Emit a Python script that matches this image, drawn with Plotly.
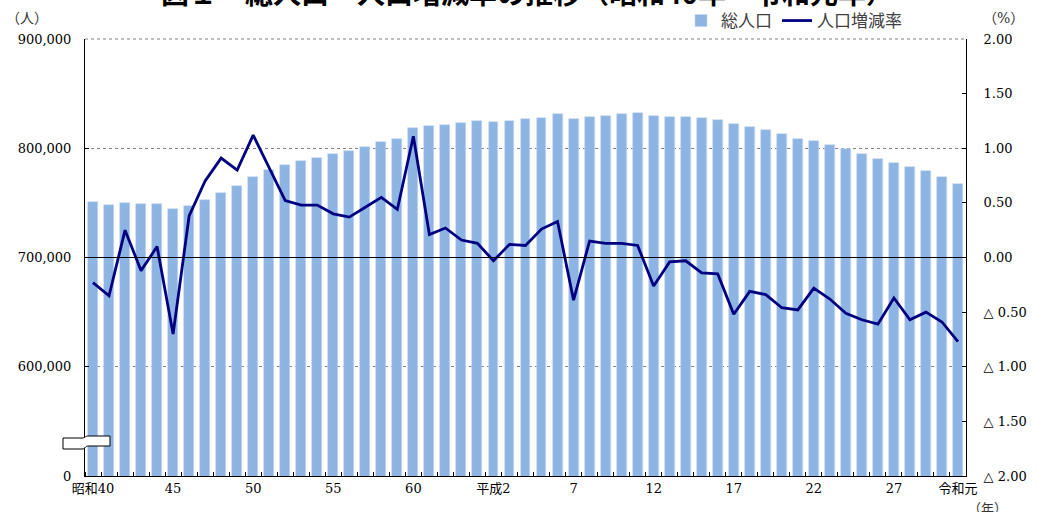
import plotly.graph_objects as go

# ---- data ----
era_labels = ["昭和40", "45", "50", "55", "60", "平成2", "7", "12", "17", "22", "27", "令和元"]
label_positions = [0, 5, 10, 15, 20, 25, 30, 35, 40, 45, 50, 54]

population = [
    751000, 748000, 750000, 748700, 749000, 744400, 747000, 752600, 759000, 765000,
    774000, 780400, 784700, 788300, 791400, 794700, 797800, 801000, 805700, 808700,
    818200, 820100, 821600, 823100,
    824700, 824000, 825000, 826500, 828000, 831300, 827000, 828900, 829800, 831300,
    832000, 829800, 828900, 828700, 827800, 826200, 822200, 819200, 816700, 813000,
    808700, 806400, 803300, 799300, 794700, 789800, 786800, 782800, 778900, 774000,
    767600,
]
growth_rate = [
    -0.23, -0.35, 0.25, -0.12, 0.10, -0.70, 0.38, 0.70, 0.91, 0.80,
    1.12, 0.82, 0.52, 0.48, 0.48, 0.40, 0.37, 0.46, 0.55, 0.44,
    1.11, 0.21, 0.27, 0.16,
    0.13, -0.03, 0.12, 0.11, 0.26, 0.33, -0.39, 0.15, 0.13, 0.13,
    0.11, -0.26, -0.04, -0.03, -0.14, -0.15, -0.52, -0.31, -0.34, -0.46,
    -0.48, -0.28, -0.38, -0.51, -0.57, -0.61, -0.37, -0.57, -0.50, -0.59,
    -0.77,
]
left_tickvals = [500000, 600000, 700000, 800000, 900000]
left_ticktext = ["0", "600,000", "700,000", "800,000", "900,000"]
right_tickvals = [-2, -1.5, -1, -0.5, 0, 0.5, 1, 1.5, 2]
right_ticktext = ["△ 2.00", "△ 1.50", "△ 1.00", "△ 0.50", "0.00", "0.50", "1.00", "1.50", "2.00"]

x = list(range(len(population)))

W, H = 1038, 512
L, R, T, B = 85, 966, 39, 476
def px(v):
    return (v - L) / (R - L)
def py(v):
    return (B - v) / (B - T)

SERIF = "DejaVu Serif, Noto Sans CJK JP"
CJK = "Noto Sans CJK JP"

fig = go.Figure()
fig.add_trace(go.Bar(
    x=x, y=population, name="総人口", width=0.62,
    marker=dict(color="#8DB4E2", line=dict(color="#C5D9F1", width=0.6)),
    yaxis="y",
))
fig.add_trace(go.Scatter(
    x=x, y=growth_rate, name="人口増減率", mode="lines",
    line=dict(color="#000080", width=2.8),
    yaxis="y2",
))

fig.update_layout(
    width=W, height=H,
    margin=dict(l=L, r=W - R, t=T, b=H - B, autoexpand=False),
    plot_bgcolor="white", paper_bgcolor="white",
    showlegend=True,
    legend=dict(orientation="h", x=px(907), xanchor="right", y=py(21), yanchor="middle",
                font=dict(family=CJK, size=17, color="#404040"), bgcolor="rgba(0,0,0,0)",
                itemwidth=30, traceorder="normal"),
    bargap=0,
    xaxis=dict(
        range=[-0.5, len(population) - 0.5],
        tickmode="array", tickvals=label_positions, ticktext=era_labels,
        ticks="", showgrid=False, zeroline=False,
        showline=True, linecolor="black", linewidth=1,
        tickfont=dict(family=SERIF, size=13, color="black"),
        minor=dict(tickmode="linear", tick0=-0.5, dtick=1, ticks="inside", ticklen=4,
                   tickcolor="black", showgrid=False),
    ),
    yaxis=dict(
        range=[500000, 900000],
        tickmode="array", tickvals=left_tickvals, ticktext=left_ticktext,
        ticks="inside", ticklen=4, tickcolor="black",
        showline=True, linecolor="black", linewidth=1,
        showgrid=True, gridcolor="#808080", griddash="dot", gridwidth=1,
        zeroline=False,
        tickfont=dict(family=SERIF, size=13, color="black"),
        ticklabelstandoff=10,
    ),
    yaxis2=dict(
        range=[-2, 2], overlaying="y", side="right",
        tickmode="array", tickvals=right_tickvals, ticktext=right_ticktext,
        ticks="inside", ticklen=4, tickcolor="black",
        showline=True, linecolor="black", linewidth=1,
        showgrid=False, zeroline=False,
        tickfont=dict(family=SERIF, size=13, color="black"),
        ticklabelstandoff=14,
    ),
)

# dotted top border of the plot (900,000 grid line)
fig.add_shape(type="line", xref="paper", yref="paper", x0=0, x1=1, y0=1, y1=1,
              line=dict(color="#808080", width=1, dash="dot"), layer="above")
# zero line of the rate axis (solid black across the plot)
fig.add_shape(type="line", xref="paper", yref="y2", x0=0, x1=1, y0=0, y1=0,
              line=dict(color="black", width=1.2), layer="above")

# axis break symbol
path = (f"M {px(63)},{py(438)} L {px(82)},{py(438)} "
        f"C {px(86)},{py(438)} {px(84)},{py(436)} {px(89)},{py(436)} "
        f"L {px(110)},{py(436)} L {px(110)},{py(446)} L {px(89)},{py(446)} "
        f"C {px(84)},{py(446)} {px(86)},{py(449)} {px(82)},{py(449)} "
        f"L {px(63)},{py(449)} Z")
fig.add_shape(type="path", xref="paper", yref="paper", path=path,
              fillcolor="white", line=dict(color="black", width=1), layer="above")

# title (cut at top as in reference)
fig.add_annotation(text="<b>図１　総人口・人口増減率の推移（昭和40年～令和元年）</b>",
                   xref="paper", yref="paper", x=px(527), y=py(-8),
                   xanchor="center", yanchor="middle", showarrow=False,
                   font=dict(family=CJK, size=28, color="black"))
# unit labels
fig.add_annotation(text="（人）", xref="paper", yref="paper", x=px(4), y=py(18),
                   xanchor="left", yanchor="middle", showarrow=False,
                   font=dict(family=SERIF, size=14, color="#333333"))
fig.add_annotation(text="（%）", xref="paper", yref="paper", x=px(981), y=py(18),
                   xanchor="left", yanchor="middle", showarrow=False,
                   font=dict(family=SERIF, size=14, color="#333333"))
fig.add_annotation(text="（年）", xref="paper", yref="paper", x=px(966), y=py(508),
                   xanchor="left", yanchor="middle", showarrow=False,
                   font=dict(family=SERIF, size=13, color="#333333"))

fig.write_html("out.html", config={"displayModeBar": False},
               post_script="document.body.style.margin='0';document.body.style.padding='0';")
